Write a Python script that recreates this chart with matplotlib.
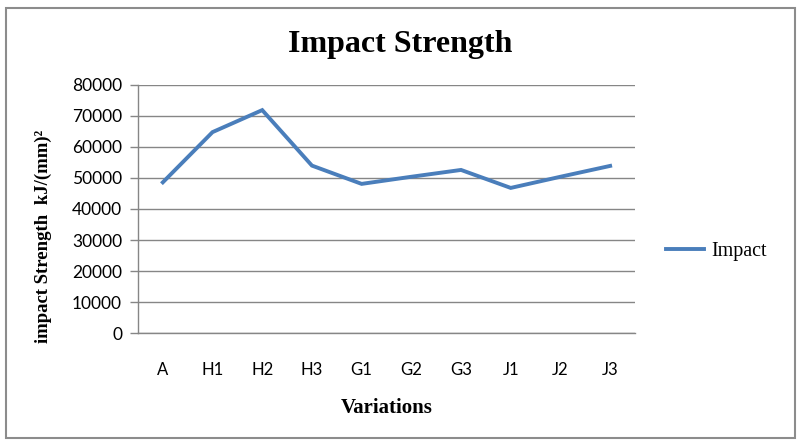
import matplotlib.pyplot as plt
from matplotlib.patches import Rectangle

variations = ['A', 'H1', 'H2', 'H3', 'G1', 'G2', 'G3', 'J1', 'J2', 'J3']
impact = [48600, 64800, 71900, 54000, 48100, 50400, 52600, 46800, 50400, 53900]
yticks = [0, 10000, 20000, 30000, 40000, 50000, 60000, 70000, 80000]

serif = 'Liberation Serif'
grey = '#868686'

fig = plt.figure(figsize=(8.05, 4.42), dpi=100)
ax = fig.add_axes([0.1714, 0.2466, 0.6174, 0.5611])

x = range(len(variations))
ax.plot(x, impact, color='#4a7ebb', lw=2.8, solid_joinstyle='miter', label='Impact')

ax.set_xlim(-0.5, len(variations) - 0.5)
ax.set_ylim(0, 80000)
ax.set_yticks(yticks)
ax.set_yticklabels([str(v) for v in yticks], fontfamily='Lato', fontsize=12.5)
ax.set_xticks(list(x))
ax.set_xticklabels(variations, fontfamily='Lato', fontsize=12)
ax.tick_params(axis='x', length=0, pad=21)
ax.tick_params(axis='y', length=5.5, width=1, color=grey, pad=6)
ax.yaxis.grid(True, color=grey, lw=1)
ax.set_axisbelow(True)
for s in ['top', 'right']:
    ax.spines[s].set_visible(False)
for s in ['left', 'bottom']:
    ax.spines[s].set_color(grey)
    ax.spines[s].set_linewidth(1)

ax.set_xlabel('Variations', fontfamily=serif, fontweight='bold', fontsize=15, labelpad=14)
fig.text(43 / 805, 1 - 236 / 442, 'impact Strength  kJ/(mm)²', rotation=90,
         ha='center', va='center', fontfamily=serif, fontweight='bold', fontsize=13.5)

fig.text(0.497, 0.90, 'Impact Strength', ha='center', va='center',
         fontfamily=serif, fontweight='bold', fontsize=23)

leg = fig.legend(loc='center left', bbox_to_anchor=(0.805, 0.43), frameon=False,
                 prop={'family': serif, 'size': 14.5}, handlelength=1.9, handletextpad=0.35)

fig.patches.append(Rectangle((0.008, 0.009), 0.98, 0.972, transform=fig.transFigure,
                             fill=False, edgecolor='#8c8c8c', lw=1.5))

fig.savefig('out.png')
